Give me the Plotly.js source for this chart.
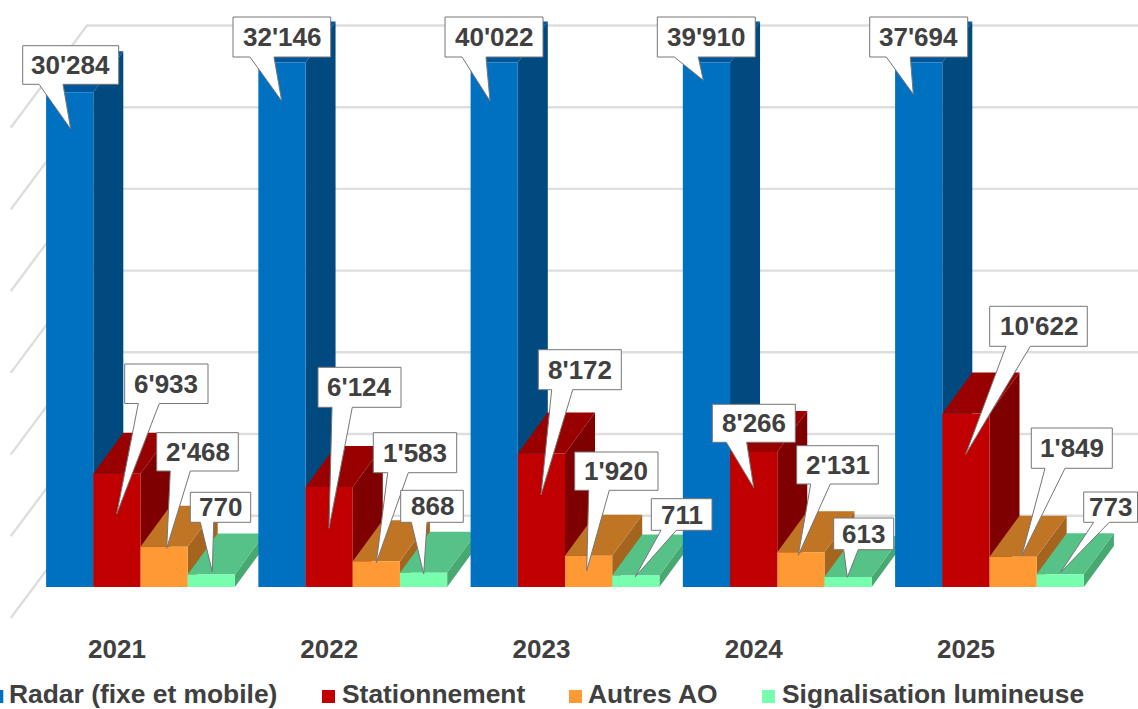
<!DOCTYPE html>
<html>
<head>
<meta charset="utf-8">
<script src="https://cdn.plot.ly/plotly-3.0.1.min.js"></script>
<style>html,body{margin:0;padding:0;background:#fff;overflow:hidden}#chart{width:1138px;height:709px}</style>
</head>
<body>
<div id="chart"></div>
<script>
// ---- data ----
var years = ['2021', '2022', '2023', '2024', '2025'];
var seriesNames = ['Radar (fixe et mobile)', 'Stationnement', 'Autres AO', 'Signalisation lumineuse'];
var radar = [30284, 32146, 40022, 39910, 37694];
var stationnement = [6933, 6124, 8172, 8266, 10622];
var autres = [2468, 1583, 1920, 2131, 1849];
var signalisation = [770, 868, 711, 613, 773];
var gridValues = [0, 5000, 10000, 15000, 20000, 25000, 30000];
var axisMax = 32100; // the chart's value axis stops here: taller columns are cut off

// ---- styles ----
var frontColors = ['#0070C0', '#C00000', '#FF9933', '#78FFAE'];
var sideColors = ['#004A80', '#7F0000', '#A5651F', '#48A872'];
var topColors = ['#00569A', '#990000', '#C07524', '#56C287'];
var textColor = '#404040';
var fontFamily = '"Liberation Sans", Arial, sans-serif';

// ---- geometry of the page (pixels) ----
var W = 1138, H = 709;
var pxPerUnit = 0.01634, baseY = 587;       // value axis
var pxPerGroup = 212.25, firstGroupX = 140.5; // category axis
var depthX = 30, depthY = 41;               // 3D depth of a column
var barWidthPx = 47.2;
function X(px) { return (px - firstGroupX) / pxPerGroup; }
function Y(py) { return (baseY - py) / pxPerUnit; }
function fmt(v) { return String(v).replace(/\B(?=(\d{3})+$)/g, "'"); }

var xRange = [X(0), X(W)], yRange = [Y(H), Y(0)];
var barW = barWidthPx / pxPerGroup, dX = depthX / pxPerGroup, dV = depthY / pxPerUnit;

var allSeries = [radar, stationnement, autres, signalisation];
var traces = [];

// wall grid: back wall lines and left wall diagonals
var wall = {frontX: 10.7, backX: 87, frontY: 618, backY: 515.7};
var gx = [], gy = [];
gridValues.forEach(function (v) {
  var yFront = v + Y(wall.frontY), yBack = v + Y(wall.backY);
  gx.push(X(wall.frontX), X(wall.backX), xRange[1], null);
  gy.push(yFront, yBack, yBack, null);
});
traces.push({type: 'scatter', mode: 'lines', x: gx, y: gy, showlegend: false, hoverinfo: 'skip',
  line: {color: '#DEDEDE', width: 2.4}});

// side and top faces of the columns
allSeries.forEach(function (vals, s) {
  var sx = [], sy = [], tx = [], ty = [];
  vals.forEach(function (raw, i) {
    var v = Math.min(raw, axisMax);
    var xl = i - 2 * barW + s * barW, xr = xl + barW;
    sx.push(xr, xr + dX, xr + dX, xr, xr, null);
    sy.push(0, dV, v + dV, v, 0, null);
    tx.push(xl, xr, xr + dX, xl + dX, xl, null);
    ty.push(v, v, v + dV, v + dV, v, null);
  });
  [[sx, sy, sideColors[s]], [tx, ty, topColors[s]]].forEach(function (f) {
    traces.push({type: 'scatter', mode: 'lines', x: f[0], y: f[1], fill: 'toself', fillcolor: f[2],
      line: {width: 0, color: f[2]}, showlegend: false, hoverinfo: 'skip'});
  });
});

// front faces: real bars on an overlaid pair of axes, so they paint over the faces above
allSeries.forEach(function (vals, s) {
  traces.push({type: 'bar', name: seriesNames[s], x: years.map(function (y, i) { return i; }),
    y: vals.map(function (v) { return Math.min(v, axisMax); }),
    customdata: vals, xaxis: 'x2', yaxis: 'y2', marker: {color: frontColors[s], line: {width: 0}},
    showlegend: false, hoverinfo: 'skip'});
});

// callouts (layout of the labels, pixels): [left, right, top, bottom, wedgeLeft, wedgeRight, tipX, tipY]
var calloutLayout = [
  [[22.7,118.7,45.7,84.3,39,63,70.7,129], [233,330.7,17,57,250,274,281.7,101], [445,543,17,57,462,486,490,101], [657.3,755.3,17,57,674.3,698.3,703.3,80.3], [869.7,967.7,17,57,886.3,910.3,913.3,94.3]],
  [[124.7,208,364,403.5,138.3,159.3,116.7,514], [318,401,367.3,407.3,332,352.3,329,528.3], [538.3,621.3,349.7,389.7,551.7,572.7,541,495], [712.3,795.3,404.3,442.3,726.3,746.7,753.7,487.7], [989.7,1087.3,306.3,346.3,1006,1030.3,965.7,454.3]],
  [[156.7,238.3,432.7,471,170.3,190.3,166.7,548.3], [373.3,456.7,432.7,472.7,387.7,408.3,376.3,562.7], [574.7,658,452,490.3,588.7,609.3,586.7,570.7], [796.7,878.3,445.7,484,810.7,830.3,798.3,555.3], [1031.3,1112.3,428,468.3,1045,1065,1021.7,556]],
  [[190.3,250.7,492.3,522.3,200.3,213.7,212.3,571.7], [400.7,463.3,490.3,522.3,411.3,427,423.7,574], [651.3,712,498.7,530.3,661,676.3,635.3,576.7], [833.7,893.7,518,549.7,843.7,858.3,847.3,577.3], [1083.7,1137.5,492,522.3,1093.7,1109.3,1060.3,572.7]]
];

var annotations = [];
calloutLayout.forEach(function (row, s) {
  row.forEach(function (c, i) {
    var px = [c[0], c[1], c[1], c[5], c[6], c[4], c[0], c[0]];
    var py = [c[2], c[2], c[3], c[3], c[7], c[3], c[3], c[2]];
    traces.push({type: 'scatter', mode: 'lines', xaxis: 'x2', yaxis: 'y2', showlegend: false, hoverinfo: 'skip',
      x: px.map(X), y: py.map(Y), fill: 'toself', fillcolor: '#FFFFFF', line: {color: '#767676', width: 1}});
    annotations.push({xref: 'paper', yref: 'paper', x: ((c[0] + c[1]) / 2) / W, y: 1 - ((c[2] + c[3]) / 2) / H,
      xanchor: 'center', yanchor: 'middle', showarrow: false, text: fmt(allSeries[s][i]),
      font: {family: fontFamily, size: 26, color: textColor, weight: 700}});
  });
});

// legend row
var legendLayout = {y: 696.5, textY: 693.5, squareX: [-3.2, 328.5, 575.5, 768.5], textX: [8.7, 341.7, 588, 782]};
traces.push({type: 'scatter', mode: 'markers', xaxis: 'x2', yaxis: 'y2', showlegend: false, hoverinfo: 'skip',
  x: legendLayout.squareX.map(X), y: legendLayout.squareX.map(function () { return Y(legendLayout.y); }),
  marker: {symbol: 'square', size: 13, color: frontColors, line: {width: 0}}});
seriesNames.forEach(function (n, s) {
  annotations.push({xref: 'paper', yref: 'paper', x: legendLayout.textX[s] / W, y: 1 - legendLayout.textY / H,
    xanchor: 'left', yanchor: 'middle', showarrow: false, text: n, xshift: -2,
    font: {family: fontFamily, size: 26.4, color: textColor, weight: 700}});
});

var layout = {
  width: W, height: H, margin: {l: 0, r: 0, t: 0, b: 0, pad: 0},
  paper_bgcolor: '#FFFFFF', plot_bgcolor: 'rgba(0,0,0,0)', showlegend: false, hovermode: false,
  barmode: 'group', bargap: 1 - 4 * barW, bargroupgap: 0,
  font: {family: fontFamily, color: textColor},
  xaxis: {range: xRange, anchor: 'free', position: (H - 631) / H, tickmode: 'array',
    tickvals: years.map(function (y, i) { return i - 23.5 / pxPerGroup; }), ticktext: years,
    ticks: '', showgrid: false, zeroline: false, showline: false, fixedrange: true,
    tickfont: {family: fontFamily, size: 26, color: textColor, weight: 700}},
  yaxis: {range: yRange, visible: false, fixedrange: true, showgrid: false, zeroline: false},
  xaxis2: {range: xRange, overlaying: 'x', visible: false, fixedrange: true},
  yaxis2: {range: yRange, overlaying: 'y', visible: false, fixedrange: true},
  annotations: annotations
};
Plotly.newPlot('chart', traces, layout, {displayModeBar: false, staticPlot: true});
</script>
</body>
</html>
